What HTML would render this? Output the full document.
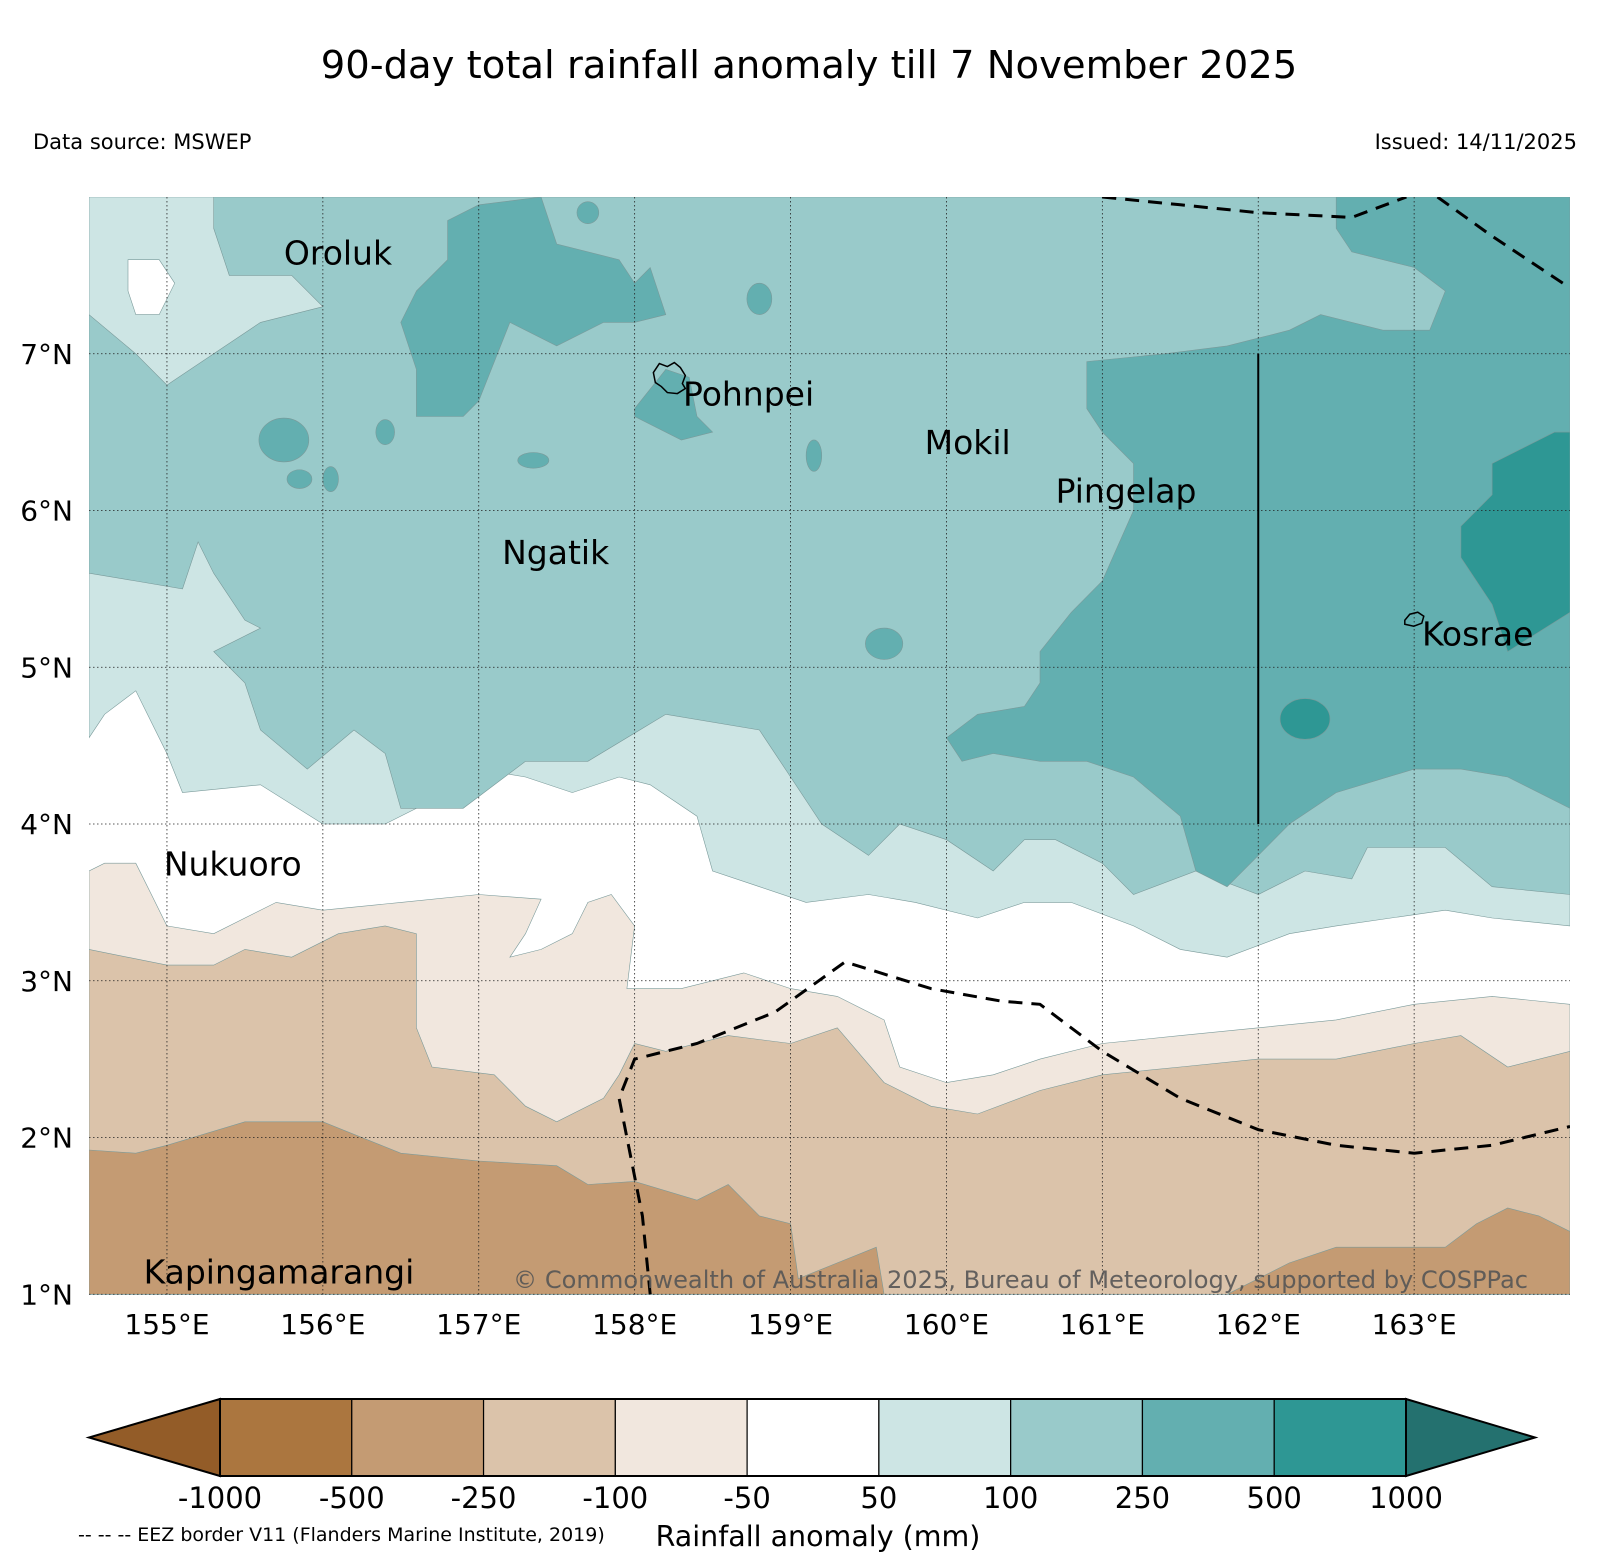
<!DOCTYPE html>
<html><head><meta charset="utf-8"><style>
html,body{margin:0;padding:0;background:#fff;}
svg text{font-family:"DejaVu Sans","Liberation Sans",sans-serif;}
</style></head><body>
<svg id="chart" width="1609" height="1563" viewBox="0 0 1609 1563" xmlns="http://www.w3.org/2000/svg">
<text x="809" y="78" font-size="38.5" text-anchor="middle">90-day total rainfall anomaly till 7 November 2025</text>
<text x="33" y="149" font-size="21">Data source: MSWEP</text>
<text x="1577" y="149" font-size="21" text-anchor="end">Issued: 14/11/2025</text>
<defs><clipPath id="mapclip"><rect x="89" y="197" width="1481" height="1098"/></clipPath></defs>
<g id="map" clip-path="url(#mapclip)"></g>
<g id="overlay"></g>
<g id="cbar"></g>
<text x="818" y="1546" font-size="28.5" text-anchor="middle">Rainfall anomaly (mm)</text>
<text x="78" y="1541" font-size="19">-- -- -- EEZ border V11 (Flanders Marine Institute, 2019)</text>
</svg>
<script>
// ---- data ----
const colorLevels = [-1000,-500,-250,-100,-50,50,100,250,500,1000];
const levelColors = ["#935c28","#ab763f","#c49b73","#dbc3aa","#f1e7de","#ffffff","#cde5e4","#99caca","#63afb0","#2e9794","#24716f"];
const lonTicks = [155,156,157,158,159,160,161,162,163];
const latTicks = [1,2,3,4,5,6,7];
const lightTeal = [[154.5,8],[164,8],[164,3.35],[163.5,3.4],[163.2,3.45],[162.5,3.35],[162.2,3.3],[161.8,3.15],[161.5,3.2],[161.2,3.35],[160.8,3.5],[160.5,3.5],[160.2,3.4],[159.8,3.5],[159.5,3.55],[159.1,3.5],[158.8,3.6],[158.5,3.7],[158.4,4.05],[158.1,4.25],[157.9,4.3],[157.6,4.2],[157.3,4.3],[157.0,4.35],[156.7,4.15],[156.4,4.0],[156.0,4.0],[155.6,4.25],[155.1,4.2],[155.0,4.45],[154.8,4.85],[154.6,4.7],[154.5,4.55]];
const whiteTopLeft = [[154.75,7.6],[154.95,7.6],[155.05,7.45],[154.95,7.25],[154.8,7.25],[154.75,7.4]];
const midTeal = [[155.3,8],[164,8],[164,3.55],[163.5,3.6],[163.2,3.85],[162.7,3.85],[162.6,3.65],[162.3,3.7],[162.0,3.55],[161.6,3.7],[161.2,3.55],[161.0,3.75],[160.7,3.9],[160.5,3.9],[160.3,3.7],[160.0,3.9],[159.7,4.0],[159.5,3.8],[159.2,4.0],[159.0,4.3],[158.8,4.6],[158.2,4.7],[157.7,4.4],[157.3,4.4],[156.9,4.1],[156.5,4.1],[156.4,4.45],[156.2,4.6],[155.9,4.35],[155.6,4.6],[155.5,4.9],[155.3,5.1],[155.6,5.25],[155.5,5.3],[155.3,5.6],[155.2,5.8],[155.1,5.5],[154.8,5.55],[154.5,5.6],[154.5,7.25],[154.8,7.0],[155.0,6.8],[155.3,7.0],[155.6,7.2],[156.0,7.3],[155.8,7.5],[155.4,7.5],[155.3,7.8]];
const darkTealEast = [[162.5,8],[164,8],[164,4.1],[163.6,4.3],[163.3,4.35],[163.0,4.35],[162.5,4.2],[162.2,4.0],[162.0,3.8],[161.8,3.6],[161.6,3.7],[161.5,4.05],[161.2,4.3],[160.9,4.4],[160.6,4.4],[160.3,4.45],[160.1,4.4],[160.0,4.55],[160.2,4.7],[160.5,4.75],[160.6,4.9],[160.6,5.1],[160.8,5.35],[161.0,5.55],[161.2,6.0],[161.2,6.3],[161.0,6.5],[160.9,6.65],[160.9,6.95],[161.4,7.0],[161.8,7.05],[162.0,7.1],[162.2,7.15],[162.4,7.25],[162.8,7.15],[163.1,7.15],[163.2,7.4],[163.0,7.55],[162.6,7.65],[162.5,7.8]];
const darkTealNorth = [[156.6,7.4],[156.8,7.6],[156.8,7.85],[157.0,7.95],[157.4,8.0],[157.5,7.7],[157.9,7.6],[158.0,7.45],[158.1,7.55],[158.2,7.25],[158.0,7.2],[157.8,7.2],[157.5,7.05],[157.2,7.2],[157.0,6.7],[156.9,6.6],[156.6,6.6],[156.6,6.9],[156.5,7.2]];
const darkTealPohnpei = [[158.0,6.65],[158.2,6.9],[158.35,6.85],[158.4,6.6],[158.5,6.5],[158.3,6.45],[158.0,6.6]];
const darkTealSpots = [[155.75,6.45,0.16,0.14],[157.35,6.32,0.1,0.05],[159.6,5.15,0.12,0.1],[159.15,6.35,0.05,0.1],[155.85,6.2,0.08,0.06],[156.05,6.2,0.05,0.08],[156.4,6.5,0.06,0.08],[158.8,7.35,0.08,0.1],[157.7,7.9,0.07,0.07]];
const deepTealEast = [[163.5,6.3],[163.9,6.5],[164,6.5],[164,5.35],[163.6,5.1],[163.5,5.4],[163.3,5.7],[163.3,5.9],[163.5,6.1]];
const deepTealSpot = [162.3,4.67,0.16,0.13];
const beige1 = [[154.5,3.7],[154.6,3.75],[154.8,3.75],[154.9,3.55],[155.0,3.35],[155.3,3.3],[155.5,3.4],[155.7,3.5],[156.0,3.45],[156.5,3.5],[157.0,3.55],[157.4,3.52],[157.3,3.3],[157.2,3.15],[157.4,3.2],[157.6,3.3],[157.7,3.5],[157.85,3.55],[158.0,3.35],[157.95,2.95],[158.3,2.95],[158.7,3.05],[159.0,2.95],[159.3,2.9],[159.6,2.75],[159.7,2.45],[160.0,2.35],[160.3,2.4],[160.6,2.5],[161.0,2.6],[161.5,2.65],[162.0,2.7],[162.5,2.75],[163.0,2.85],[163.5,2.9],[164.0,2.85],[164,1],[154.5,1]];
const beige2 = [[154.5,3.2],[155.0,3.1],[155.3,3.1],[155.5,3.2],[155.8,3.15],[156.1,3.3],[156.4,3.35],[156.6,3.3],[156.6,2.7],[156.7,2.45],[157.1,2.4],[157.3,2.2],[157.5,2.1],[157.8,2.25],[157.9,2.4],[158.0,2.6],[158.2,2.55],[158.6,2.65],[159.0,2.6],[159.3,2.7],[159.6,2.35],[159.9,2.2],[160.2,2.15],[160.6,2.3],[161.0,2.4],[161.5,2.45],[162.0,2.5],[162.5,2.5],[163.0,2.6],[163.3,2.65],[163.6,2.45],[164.0,2.55],[164,1],[154.5,1]];
const brownWest = [[154.5,1.92],[154.8,1.9],[155.0,1.95],[155.5,2.1],[156.0,2.1],[156.5,1.9],[157.0,1.85],[157.5,1.82],[157.7,1.7],[158.0,1.72],[158.4,1.6],[158.6,1.7],[158.8,1.5],[159.0,1.45],[159.05,1.1],[159.3,1.2],[159.55,1.3],[159.6,1.0],[154.5,1.0]];
const brownEast = [[164,1.4],[163.8,1.5],[163.6,1.55],[163.4,1.45],[163.2,1.3],[162.5,1.3],[162.2,1.2],[162.0,1.1],[161.8,1.0],[164,1]];
const eezNorthA = [[161.0,8.0],[161.5,7.95],[162.0,7.9],[162.6,7.87],[162.95,8.0]];
const eezNorthB = [[163.15,8.0],[163.5,7.75],[164.0,7.42]];
const eezSouth = [[158.1,1.0],[158.05,1.5],[157.95,2.0],[157.9,2.25],[158.0,2.5],[158.4,2.6],[158.9,2.8],[159.35,3.12],[159.9,2.95],[160.35,2.87],[160.6,2.85],[161.0,2.55],[161.5,2.25],[162.0,2.05],[162.5,1.95],[163.0,1.9],[163.5,1.95],[164.0,2.07]];
const islandNames = ["Oroluk","Pohnpei","Mokil","Pingelap","Ngatik","Kosrae","Nukuoro","Kapingamarangi"];
const islandLon = [155.75,158.31,159.86,160.7,157.15,163.05,154.98,154.85];
const islandLat = [7.57,6.67,6.36,6.05,5.66,5.14,3.67,1.07];

// ---- axis functions ----
const X = lon => 89 + (lon-154.5)*155.9;
const Y = lat => 197 + (8-lat)*156.75;
const NS = "http://www.w3.org/2000/svg";
const map = document.getElementById('map');
const ov = document.getElementById('overlay');
const cb = document.getElementById('cbar');
function mk(tag, attrs, parent){const e=document.createElementNS(NS,tag);for(const k in attrs)e.setAttribute(k,attrs[k]);parent.appendChild(e);return e;}
function pts(a){return a.map(p=>X(p[0]).toFixed(1)+','+Y(p[1]).toFixed(1)).join(' ');}
function poly(a,color,name){const e=mk('polygon',{points:pts(a),fill:color,stroke:'#7a9a9a','stroke-width':0.6},map);

}
function ell(s,color,name){const e=mk('ellipse',{cx:X(s[0]),cy:Y(s[1]),rx:s[2]*155.9,ry:s[3]*156.75,fill:color,stroke:'#7a9a9a','stroke-width':0.6},map);

}

mk('rect',{x:89,y:197,width:1481,height:1098,fill:'#fff'},map);
poly(lightTeal, levelColors[6], 'contour-50-100');
poly(whiteTopLeft, levelColors[5], 'contour-white-patch');
poly(midTeal, levelColors[7], 'contour-100-250');
poly(darkTealEast, levelColors[8], 'contour-250-500-east');
poly(darkTealNorth, levelColors[8], 'contour-250-500-north');
poly(darkTealPohnpei, levelColors[8], 'contour-250-500-pohnpei');
darkTealSpots.forEach(s=>ell(s, levelColors[8], 'contour-250-500-spot'));
poly(deepTealEast, levelColors[9], 'contour-500-1000-east');
ell(deepTealSpot, levelColors[9], 'contour-500-1000-spot');
poly(beige1, levelColors[4], 'contour-minus100-minus50');
poly(beige2, levelColors[3], 'contour-minus250-minus100');
poly(brownWest, levelColors[2], 'contour-minus500-minus250-west');
poly(brownEast, levelColors[2], 'contour-minus500-minus250-east');

// grid
lonTicks.forEach(l=>{const e=mk('line',{x1:X(l),x2:X(l),y1:197,y2:1295,stroke:'#222','stroke-width':0.8,'stroke-dasharray':'1.5,2.5'},map);


const t=mk('text',{x:X(l),y:1334,'font-size':28,'text-anchor':'middle'},ov);t.textContent=l+'°E';

});
latTicks.forEach(l=>{const e=mk('line',{x1:89,x2:1570,y1:Y(l),y2:Y(l),stroke:'#222','stroke-width':0.8,'stroke-dasharray':'1.5,2.5'},map);


const t=mk('text',{x:73,y:Y(l)+10,'font-size':28,'text-anchor':'end'},ov);t.textContent=l+'°N';

});

const bl=mk('line',{x1:X(162),x2:X(162),y1:Y(7),y2:Y(4),stroke:'#000','stroke-width':2},map);


[eezNorthA,eezNorthB,eezSouth].forEach(a=>{const e=mk('polyline',{points:pts(a),fill:'none',stroke:'#000','stroke-width':3,'stroke-dasharray':'14,9'},map);

});
const ip=mk('path',{d:`M${X(158.12)},${Y(6.88)} l6,-9 l8,3 l7,-4 l6,5 l5,8 l-3,8 l3,5 l-8,5 l-10,-1 l-6,-6 l-6,-4 z`,fill:'none',stroke:'#000','stroke-width':1.5},map);


const ik=mk('path',{d:`M${X(162.94)},${Y(5.3)} l5,-6 l8,-2 l6,4 l-2,7 l-8,3 l-9,-2 z`,fill:'none',stroke:'#000','stroke-width':1.5},map);



islandNames.forEach((n,i)=>{const t=mk('text',{x:X(islandLon[i]),y:Y(islandLat[i]),'font-size':33},map);t.textContent=n;

});
const cr=mk('text',{x:X(157.22),y:1288,'font-size':24,fill:'#555','fill-opacity':0.9,textLength:1015,lengthAdjust:'spacingAndGlyphs'},map);cr.textContent='© Commonwealth of Australia 2025, Bureau of Meteorology, supported by COSPPac';



// colorbar
const cbL=220, cbR=1406, cbT=1399, cbB=1476, w=(cbR-cbL)/9;
const lt=mk('polygon',{points:`${cbL},${cbT} ${cbL},${cbB} 89,${(cbT+cbB)/2}`,fill:levelColors[0],stroke:'#000','stroke-width':2},cb);


const rt=mk('polygon',{points:`${cbR},${cbT} ${cbR},${cbB} 1535,${(cbT+cbB)/2}`,fill:levelColors[10],stroke:'#000','stroke-width':2},cb);


for(let i=0;i<9;i++){const r=mk('rect',{x:cbL+i*w,y:cbT,width:w,height:cbB-cbT,fill:levelColors[i+1],stroke:'#000','stroke-width':1.2},cb);

}
mk('rect',{x:cbL,y:cbT,width:cbR-cbL,height:cbB-cbT,fill:'none',stroke:'#000','stroke-width':2},cb);
colorLevels.forEach((v,i)=>{const t=mk('text',{x:cbL+i*w,y:1508,'font-size':29,'text-anchor':'middle'},cb);t.textContent=v;

});
</script>
</body></html>
